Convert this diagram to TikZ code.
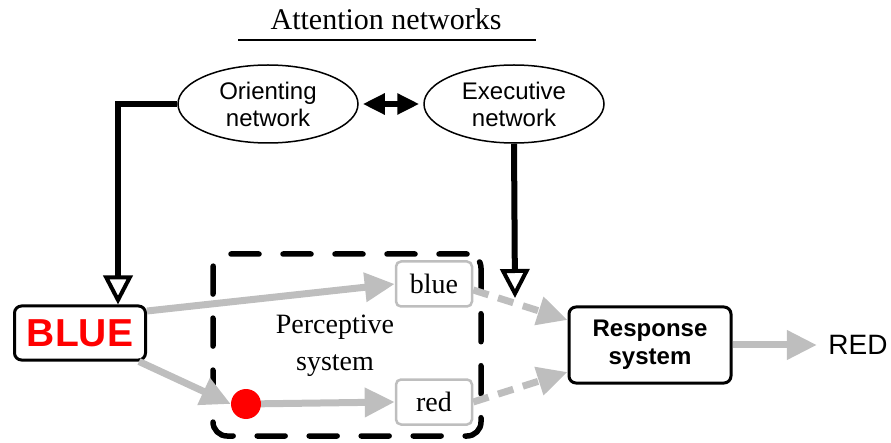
\documentclass[tikz,border=0pt]{standalone}
\usepackage{fontspec}
\setmainfont{Liberation Serif}
\setsansfont{Liberation Sans}
\usepackage{tikz}
\usetikzlibrary{arrows.meta,shapes}

\definecolor{arrowgray}{RGB}{190,190,190}

\begin{document}
\begin{tikzpicture}[x=1pt,y=-1pt,
  net node/.style={ellipse,draw,line width=1.5pt,minimum width=180pt,minimum height=78pt,
    align=center,font=\sffamily\fontsize{24}{27}\selectfont},
  word node/.style={rectangle,draw,rounded corners=7pt,line width=3pt,align=center},
  percept node/.style={rectangle,draw=arrowgray,rounded corners=5pt,line width=2.5pt,
    minimum width=76pt,minimum height=45pt,font=\fontsize{28}{30}\selectfont},
  ctrl arrow/.style={line width=6pt,-{Triangle[open,length=29pt,width=29pt,line width=4pt]}},
  gray arrow/.style={arrowgray,line width=7pt,-{Triangle[length=30pt,width=28pt]}},
  gray dash/.style={gray arrow,dash pattern=on 16pt off 10pt}]

  \useasboundingbox (0,0) rectangle (891,443);

  \node (title) at (386,19) {\fontsize{30}{32}\selectfont Attention networks};
  \draw[line width=2pt] (238,40) -- (536,40);

  \node[net node] (orient) at (268,104) {Orienting\\network};
  \node[net node] (exec) at (514,104) {Executive\\network};

  \node[word node,minimum width=131pt,minimum height=54pt,text=red,
    font=\sffamily\bfseries\fontsize{39}{40}\selectfont] (word) at (80,333) {BLUE};
  \node[rectangle,draw,rounded corners=14pt,line width=5.5pt,line cap=round,
    dash pattern=on 28pt off 24pt,minimum width=268pt,minimum height=182pt] (percept) at (347,345) {};
  \node[align=center,font=\fontsize{28}{37}\selectfont] (ptext) at (335,346) {Perceptive\\system};
  \node[percept node] (pblue) at (434,284) {blue};
  \node[percept node] (pred) at (434,402) {red};
  \node[circle,fill=red,minimum size=30pt,inner sep=0pt] (dot) at (246,404) {};
  \node[word node,minimum width=162pt,minimum height=76pt,
    font=\sffamily\bfseries\fontsize{24}{28}\selectfont] (resp) at (650,345) {Response\\system};
  \node[font=\sffamily\fontsize{28}{30}\selectfont] (out) at (858,345) {RED};
  \coordinate (meet) at (515,298);

  \draw[line width=6pt,{Triangle[length=22pt,width=20pt]}-{Triangle[length=22pt,width=20pt]},
    shorten <=4pt,shorten >=4pt] (orient) -- (exec);
  \draw[ctrl arrow] (orient.west) -| ([xshift=38pt]word.north);
  \draw[ctrl arrow] (exec.south) -- (meet);

  \draw[gray arrow] ([yshift=22pt]word.east) -- (pblue.west);
  \draw[gray arrow] ([xshift=-8pt]word.south east) -- (dot.west);
  \draw[gray arrow] (dot) -- (pred.west);
  \draw[gray dash] ([yshift=-6pt]pblue.east) -- ([yshift=25pt]resp.west);
  \draw[gray dash] (pred.east) -- ([yshift=-27pt]resp.west);
  \draw[gray arrow,shorten >=8pt] (resp.east) -- (out.west);
\end{tikzpicture}
\end{document}
